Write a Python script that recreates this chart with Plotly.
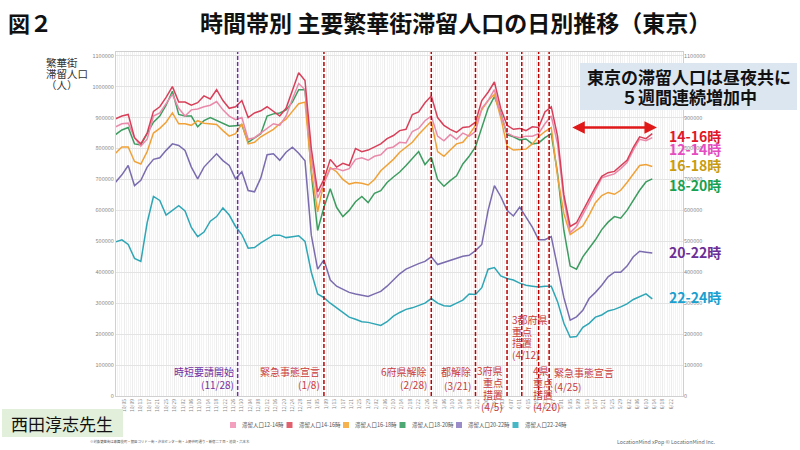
import plotly.graph_objects as go
import pandas as pd

# 3日おきに読み取った値（2020-10-01 〜 2021-06-13）、単位：千人
dates = pd.date_range("2020-10-01", periods=86, freq="3D")

pop_12_14 = [870, 880, 882, 835, 808, 830, 905, 915, 945, 975,
             930, 905, 925, 928, 935, 940, 952, 925, 905, 893,
             900, 830, 835, 850, 865, 880, 875, 905, 960, 1010,
             990, 770, 640, 685, 735, 735, 728, 735, 765, 770,
             762, 775, 780, 800, 805, 820, 818, 855, 865, 890,
             905, 840, 825, 845, 830, 850, 840, 855, 930, 955,
             990, 910, 850, 840, 835, 840, 840, 848, 880, 905,
             815, 635, 528, 548, 585, 625, 665, 705, 712, 718,
             735, 755, 795, 830, 825, 835]
pop_14_16 = [896, 905, 910, 835, 815, 850, 920, 935, 965, 1000,
             950, 950, 940, 948, 970, 960, 990, 955, 930, 935,
             955, 900, 915, 922, 935, 920, 905, 930, 990, 1045,
             1020, 800, 660, 700, 765, 740, 752, 745, 800, 790,
             795, 805, 815, 832, 842, 858, 862, 910, 918, 948,
             970, 900, 875, 862, 852, 868, 870, 885, 955, 982,
             1015, 930, 875, 862, 865, 858, 870, 868, 918, 935,
             840, 650, 548, 560, 600, 638, 675, 710, 722, 726,
             745, 762, 804, 838, 832, 848]
pop_16_18 = [785, 805, 805, 758, 750, 790, 850, 865, 885, 915,
             880, 880, 875, 890, 882, 880, 878, 858, 840, 848,
             880, 815, 820, 838, 850, 862, 880, 895, 920, 945,
             950, 730, 595, 690, 738, 725, 700, 685, 690, 688,
             682, 700, 728, 745, 765, 788, 805, 820, 845, 865,
             888, 790, 775, 795, 815, 820, 845, 875, 925, 955,
             975, 900, 808, 795, 797, 798, 815, 838, 855, 868,
             710, 590, 522, 535, 550, 585, 625, 648, 658, 652,
             665, 690, 718, 745, 748, 742]
pop_18_20 = [845, 860, 868, 815, 812, 850, 885, 905, 940, 985,
             910, 905, 905, 870, 890, 900, 890, 880, 872, 874,
             876, 820, 835, 848, 905, 912, 915, 925, 950, 990,
             990, 720, 535, 610, 670, 610, 580, 600, 628, 645,
             625, 655, 664, 690, 708, 724, 745, 768, 790, 748,
             772, 700, 678, 696, 712, 750, 775, 805, 870, 930,
             968, 915, 845, 838, 828, 831, 815, 818, 835, 848,
             720, 535, 420, 410, 450, 478, 505, 538, 562, 580,
             575, 600, 632, 665, 692, 702]
pop_20_22 = [691, 715, 745, 680, 697, 740, 765, 770, 794, 815,
             810, 794, 740, 702, 740, 761, 783, 761, 745, 702,
             725, 664, 660, 705, 780, 783, 762, 788, 804, 785,
             760, 520, 410, 440, 375, 355, 345, 335, 330, 325,
             322, 330, 338, 355, 375, 395, 410, 420, 428, 435,
             450, 425, 432, 438, 445, 452, 455, 470, 490, 600,
             680, 645, 600, 582, 611, 578, 546, 505, 505, 515,
             420, 318, 245, 256, 277, 315, 335, 358, 385, 400,
             400, 420, 450, 468, 465, 462]
pop_22_24 = [498, 505, 490, 445, 435, 560, 645, 632, 585, 600,
             615, 598, 545, 515, 530, 565, 580, 608, 585, 548,
             522, 478, 480, 495, 508, 520, 520, 512, 515, 518,
             500, 400, 330, 318, 300, 285, 268, 255, 248, 240,
             238, 232, 228, 240, 258, 270, 280, 285, 292, 300,
             315, 300, 292, 290, 300, 310, 330, 328, 350, 410,
             415, 388, 380, 375, 365, 358, 355, 352, 355, 355,
             305, 235, 190, 192, 222, 235, 255, 262, 275, 280,
             288, 298, 312, 320, 330, 314]

tick_dates = pd.date_range("2020-10-05", "2021-06-22", freq="4D")
tick_labels = [f"{d.month}/{d.day:02d}" for d in tick_dates]
y_ticks = list(range(0, 1100001, 100000))

PURPLE = "#7030a0"
RED = "#c00000"
TXT_RED = "#c83a3a"
FONT = "Noto Sans CJK JP"

# プロット領域（ピクセル）
L, R, T, B = 116, 683, 52, 396


def px(x):
    return (x - L) / (R - L)


def py(y):
    return (B - y) / (B - T)


def note(x, y, text, size, color, xanchor="center", bold=False):
    # 画面上のピクセル位置で文字を置く
    fig.add_annotation(x=px(x), xref="paper", y=py(y), yref="paper",
                       text=f"<b>{text}</b>" if bold else text, showarrow=False,
                       xanchor=xanchor, yanchor="middle",
                       font=dict(family=FONT, size=size, color=color))


fig = go.Figure()

series = [
    ("滞留人口22-24時", pop_22_24, "#2ea6b6"),
    ("滞留人口20-22時", pop_20_22, "#7a6cae"),
    ("滞留人口18-20時", pop_18_20, "#3d9c60"),
    ("滞留人口16-18時", pop_16_18, "#f0a238"),
    ("滞留人口12-14時", pop_12_14, "#ea8aab"),
    ("滞留人口14-16時", pop_14_16, "#d8405a"),
]
for name, vals, color in series:
    fig.add_trace(go.Scatter(
        x=dates, y=[v * 1000 for v in vals], mode="lines", name=name,
        line=dict(color=color, width=1.5), showlegend=False))

# 右側の目盛り用（非表示）
fig.add_trace(go.Scatter(x=dates, y=[v * 1000 for v in pop_22_24], yaxis="y2",
                         mode="lines", line=dict(width=0), opacity=0,
                         showlegend=False, hoverinfo="skip"))

# 縦の破線
event_lines = [("2020-11-28", PURPLE), ("2021-01-08", RED), ("2021-02-28", RED),
               ("2021-03-21", RED), ("2021-04-05", RED), ("2021-04-12", RED),
               ("2021-04-20", RED), ("2021-04-25", RED)]
for d, c in event_lines:
    fig.add_shape(type="line", x0=d, x1=d, xref="x", y0=0, y1=1, yref="paper",
                  line=dict(color=c, width=1.5, dash="4px,2px"))

# 破線の注記 (日付, 行, y位置px, 色, 寄せ)
event_notes = [
    ("2020-11-28", ["時短要請開始", "(11/28)"], [371, 384], PURPLE, "right"),
    ("2021-01-08", ["緊急事態宣言", "(1/8)"], [371, 384], TXT_RED, "right"),
    ("2021-02-28", ["6府県解除", "(2/28)"], [371, 384], TXT_RED, "right"),
    ("2021-03-21", ["都解除", "(3/21)"], [371, 385], TXT_RED, "right"),
    ("2021-04-05", ["3府県", "重点", "措置", "(4/5)"], [370, 382.5, 394.5, 406.5], TXT_RED, "right"),
    ("2021-04-05", ["3都府県", "重点", "措置", "(4/12)"], [319, 331, 342.5, 354], TXT_RED, "left"),
    ("2021-04-15", ["4県", "重点", "措置", "(4/20)"], [370, 382.5, 394.5, 406.5], TXT_RED, "left"),
    ("2021-04-25", ["緊急事態宣言", "(4/25)"], [372, 386], TXT_RED, "left"),
]
for d, lines, ys, c, side in event_notes:
    for text, yy in zip(lines, ys):
        fig.add_annotation(x=d, xref="x", y=py(yy), yref="paper", text=text,
                           showarrow=False, xanchor=side, yanchor="middle",
                           xshift=-2 if side == "right" else 3,
                           font=dict(family=FONT, size=10, color=c))

# 系列名ラベル（右側）
series_labels = [("14-16時", 136, "#e0182a"), ("12-14時", 149, "#e44cc0"),
                 ("16-18時", 165, "#c89b10"), ("18-20時", 185, "#17a04f"),
                 ("20-22時", 252, "#6b2f96"), ("22-24時", 297, "#1a9fd0")]
for text, yy, c in series_labels:
    note(667, yy, text, 14, c, xanchor="left", bold=True)

# 増加期間の矢印
fig.add_annotation(x="2021-06-15 05:00", y=868000, ax="2021-05-05 07:00", ay=868000,
                   xref="x", yref="y", axref="x", ayref="y", text="",
                   showarrow=True, arrowhead=2, arrowside="end+start",
                   arrowsize=1, arrowwidth=2.5, arrowcolor="#e01818")

# コメント枠
fig.add_shape(type="rect", xref="paper", yref="paper", x0=px(580), x1=px(797),
              y0=py(110), y1=py(63), fillcolor="#dbe6f1", line=dict(width=0),
              layer="above")
note(689, 76, "東京の滞留人口は昼夜共に", 17, "#111111", bold=True)
note(689, 96, "５週間連続増加中", 17, "#111111", bold=True)

# タイトル
note(6, 22, "図２", 22, "#111111", xanchor="left", bold=True)
note(455, 22, "時間帯別 主要繁華街滞留人口の日別推移（東京）", 23, "#111111", bold=True)

# 縦軸タイトル
for text, yy in [("繁華街", 62), ("滞留人口", 73.5), ("（人）", 85)]:
    note(44, yy, text, 10.5, "#333333", xanchor="left")

# 凡例（手描き）
legend_items = [("滞留人口12-14時", "#f2a0bd"), ("滞留人口14-16時", "#e0606e"),
                ("滞留人口16-18時", "#f5b24e"), ("滞留人口18-20時", "#4ea874"),
                ("滞留人口20-22時", "#9a8cc8"), ("滞留人口22-24時", "#46b7c4")]
for i, (text, c) in enumerate(legend_items):
    x0 = 233 + 56.5 * i
    fig.add_shape(type="rect", xref="paper", yref="paper", x0=px(x0 - 3), x1=px(x0 + 3),
                  y0=py(428), y1=py(422), fillcolor=c, line=dict(width=0))
    note(x0 + 7, 425, text, 5.5, "#555555", xanchor="left")

# 西田先生
fig.add_shape(type="rect", xref="paper", yref="paper", x0=px(2), x1=px(123),
              y0=py(437), y1=py(409), fillcolor="#e2efda", line=dict(width=0))
note(62, 423, "西田淳志先生", 17, "#111111")

# 脚注
note(88, 441, "※対象繁華街は歌舞伎町・銀座コリドー街・渋谷センター街・上野仲町通り・新宿二丁目・池袋・六本木",
     3.4, "#555555", xanchor="left")
note(615, 442, "LocationMind xPop © LocationMind Inc.", 5.3, "#666666", xanchor="left")

yrange = [0, 1112000]
fig.update_layout(
    width=800, height=450, autosize=False,
    margin=dict(l=L, r=800 - R, t=T, b=450 - B),
    paper_bgcolor="white", plot_bgcolor="white",
    font=dict(family=FONT),
    showlegend=False,
    xaxis=dict(
        type="date", range=["2020-10-01 04:48", "2021-06-27 14:24"],
        tickmode="array", tickvals=tick_dates, ticktext=tick_labels,
        tickangle=-90, tickfont=dict(size=5, color="#888888"),
        showgrid=True, gridcolor="#ececec", gridwidth=1,
        minor=dict(dtick=86400000, tick0="2020-10-01", showgrid=True,
                   gridcolor="#f3f3f3", gridwidth=1),
        showline=True, linecolor="#d0d0d0", mirror=True, zeroline=False,
        automargin=False,
    ),
    yaxis=dict(
        range=yrange, tickmode="array", tickvals=y_ticks,
        ticktext=[str(v) for v in y_ticks],
        tickfont=dict(size=5.5, color="#888888"),
        showgrid=True, gridcolor="#e3e3e3", zeroline=False,
        showline=True, linecolor="#d0d0d0", mirror=True, automargin=False,
    ),
    yaxis2=dict(
        range=yrange, overlaying="y", side="right", tickmode="array",
        tickvals=y_ticks, ticktext=[str(v) for v in y_ticks],
        tickfont=dict(size=5.5, color="#888888"),
        showgrid=False, zeroline=False, showline=False, automargin=False,
    ),
)

# ページ本体の余白を消して 800x450 にぴったり合わせる
fig.write_html("out.html", config={"displayModeBar": False},
               post_script="document.body.style.margin='0';")
